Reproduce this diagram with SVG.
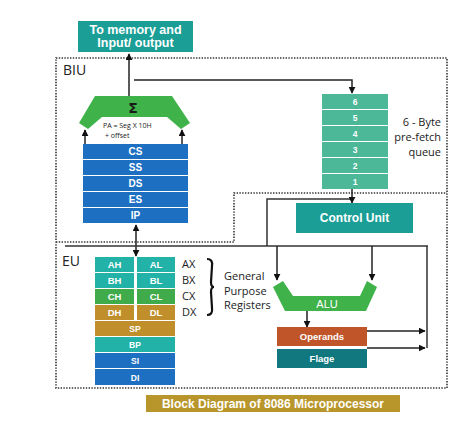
<svg xmlns="http://www.w3.org/2000/svg" width="474" height="424" viewBox="0 0 474 424">
<defs>
<marker id="ah" viewBox="0 0 10 10" refX="9" refY="5" markerWidth="7" markerHeight="7" markerUnits="userSpaceOnUse" orient="auto-start-reverse">
<path d="M0,0 L10,5 L0,10 Z" fill="#111"/>
</marker>
<style>
.bx{font-family:"Liberation Sans",Arial,sans-serif;font-weight:bold;fill:#fff;text-anchor:middle}
.lb{font-family:"Open Sans","Noto Sans",sans-serif;fill:#222}
.dot{fill:none;stroke:#333;stroke-width:1.6;stroke-dasharray:1.4 1.4}
.ln{fill:none;stroke:#333;stroke-width:1.5}
.ar{fill:none;stroke:#222;stroke-width:1.5;marker-end:url(#ah)}
.seg{fill:#1c6fc1}
.q{fill:#4cb897}
.teal{fill:#22b2a7}
.grn{fill:#3fab4a}
.gold{fill:#c08f2b}
</style>
</defs>
<rect width="474" height="424" fill="#fff"/>

<g id="frame">
<path class="dot" d="M56,58 H447 V388 H56 Z"/>
<path class="dot" d="M56,242 H234 V193 H447"/>
<text class="lb" x="63" y="75" font-size="14">BIU</text>
<text class="lb" x="62" y="266" font-size="14">EU</text>
</g>

<g id="connectors">
<line class="ar" x1="129" y1="97" x2="129" y2="54"/>
<polyline class="ar" points="134,80 352,80 352,93"/>
<line class="ar" x1="85" y1="145" x2="85" y2="130"/>
<line class="ar" x1="182" y1="145" x2="182" y2="130"/>
<line class="ar" x1="136" y1="225" x2="136" y2="256" marker-start="url(#ah)"/>
<line class="ln" x1="65" y1="246" x2="428" y2="246"/>
<polyline class="ln" points="267,246 267,199 353,199"/>
<line class="ar" x1="352" y1="189" x2="352" y2="203"/>
<line class="ar" x1="277" y1="246" x2="277" y2="280"/>
<line class="ar" x1="372" y1="246" x2="372" y2="280"/>
<line class="ln" x1="427" y1="246" x2="427" y2="348"/>
<line class="ar" x1="307" y1="311" x2="307" y2="327"/>
<line class="ar" x1="367" y1="331" x2="425" y2="331"/>
<line class="ar" x1="367" y1="348" x2="425" y2="348"/>
<path d="M207,259 Q213,259 212,266 L211,282 Q211,287 214,287 Q211,287 211,292 L212,308 Q213,315 207,315" fill="none" stroke="#111" stroke-width="2.2"/>
</g>

<g id="memory-io">
<rect x="78" y="21" width="115" height="31" fill="#1a9e96"/>
<text class="bx" x="135.5" y="34" font-size="12.5">To memory and</text>
<text class="bx" x="135.5" y="47" font-size="12.5">Input/ output</text>
</g>

<g id="adder">
<polygon points="95,96 172,96 190,123 181,129 167,117 102,117 88,129 79,123" fill="#3fb34a"/>
<text x="133" y="113" font-family="DejaVu Sans,sans-serif" font-size="14" font-weight="bold" fill="#1a1a1a" text-anchor="middle">Σ</text>
<text class="lb" x="103" y="128" font-size="7">PA = Seg X 10H</text>
<text class="lb" x="105" y="138" font-size="7">+ offset</text>
</g>

<g id="segment-registers">
<rect class="seg" x="83" y="144" width="105" height="15"/>
<rect class="seg" x="83" y="160" width="105" height="15"/>
<rect class="seg" x="83" y="176" width="105" height="15"/>
<rect class="seg" x="83" y="192" width="105" height="15"/>
<rect class="seg" x="83" y="208" width="105" height="15"/>
<text class="bx" x="135.5" y="155" font-size="10">CS</text>
<text class="bx" x="135.5" y="171" font-size="10">SS</text>
<text class="bx" x="135.5" y="187" font-size="10">DS</text>
<text class="bx" x="135.5" y="203" font-size="10">ES</text>
<text class="bx" x="135.5" y="219" font-size="10">IP</text>
</g>

<g id="prefetch-queue">
<rect class="q" x="322" y="94" width="66" height="15"/>
<rect class="q" x="322" y="110" width="66" height="15"/>
<rect class="q" x="322" y="126" width="66" height="15"/>
<rect class="q" x="322" y="142" width="66" height="15"/>
<rect class="q" x="322" y="158" width="66" height="15"/>
<rect class="q" x="322" y="174" width="66" height="15"/>
<text class="bx" x="355" y="105" font-size="8.5">6</text>
<text class="bx" x="355" y="121" font-size="8.5">5</text>
<text class="bx" x="355" y="137" font-size="8.5">4</text>
<text class="bx" x="355" y="153" font-size="8.5">3</text>
<text class="bx" x="355" y="169" font-size="8.5">2</text>
<text class="bx" x="355" y="185" font-size="8.5">1</text>
<text class="lb" x="441" y="126" font-size="11" text-anchor="end">6 - Byte</text>
<text class="lb" x="441" y="141" font-size="11" text-anchor="end">pre-fetch</text>
<text class="lb" x="441" y="156" font-size="11" text-anchor="end">queue</text>
</g>

<g id="control-unit">
<rect x="296" y="203" width="117" height="30" fill="#1a9e96"/>
<text class="bx" x="354.5" y="222" font-size="12">Control Unit</text>
</g>

<g id="general-registers">
<rect class="teal" x="95" y="257" width="39" height="15"/>
<rect class="teal" x="137" y="257" width="38" height="15"/>
<rect class="teal" x="95" y="273" width="39" height="15"/>
<rect class="teal" x="137" y="273" width="38" height="15"/>
<rect class="grn" x="95" y="289" width="39" height="15"/>
<rect class="grn" x="137" y="289" width="38" height="15"/>
<rect class="gold" x="95" y="305" width="39" height="15"/>
<rect class="gold" x="137" y="305" width="38" height="15"/>
<rect class="gold" x="95" y="321" width="80" height="15"/>
<rect class="teal" x="95" y="337" width="80" height="15"/>
<rect class="seg" x="95" y="353" width="80" height="15"/>
<rect class="seg" x="95" y="369" width="80" height="16"/>
<text class="bx" x="114.5" y="268" font-size="9.5">AH</text>
<text class="bx" x="156" y="268" font-size="9.5">AL</text>
<text class="bx" x="114.5" y="284" font-size="9.5">BH</text>
<text class="bx" x="156" y="284" font-size="9.5">BL</text>
<text class="bx" x="114.5" y="300" font-size="9.5">CH</text>
<text class="bx" x="156" y="300" font-size="9.5">CL</text>
<text class="bx" x="114.5" y="316" font-size="9.5">DH</text>
<text class="bx" x="156" y="316" font-size="9.5">DL</text>
<text class="bx" x="135" y="332" font-size="8.5">SP</text>
<text class="bx" x="135" y="348" font-size="8.5">BP</text>
<text class="bx" x="135" y="364" font-size="8.5">SI</text>
<text class="bx" x="135" y="381" font-size="8.5">DI</text>
<text class="lb" x="182" y="268" font-size="11">AX</text>
<text class="lb" x="182" y="284" font-size="11">BX</text>
<text class="lb" x="182" y="300" font-size="11">CX</text>
<text class="lb" x="182" y="316" font-size="11">DX</text>
<text class="lb" x="224" y="280" font-size="11">General</text>
<text class="lb" x="224" y="295" font-size="11">Purpose</text>
<text class="lb" x="224" y="309" font-size="11">Registers</text>
</g>

<g id="alu">
<polygon points="273,287 283,281 293,296 360,296 367,281 377,287 366,311 285,311" fill="#3fb34a"/>
<text x="327" y="308" font-family="Liberation Sans,Arial,sans-serif" font-size="11" fill="#fff" text-anchor="middle">ALU</text>
</g>

<g id="operands">
<rect x="277" y="327" width="90" height="19" fill="#c0552a"/>
<text class="bx" x="322" y="340" font-size="9.5">Operands</text>
</g>

<g id="flags">
<rect x="277" y="349" width="90" height="19" fill="#11787f"/>
<text class="bx" x="322" y="362" font-size="9.5">Flage</text>
</g>

<g id="title">
<rect x="146" y="395" width="254" height="17" fill="#b8962c"/>
<text class="bx" x="273" y="408" font-size="12">Block Diagram of 8086 Microprocessor</text>
</g>
</svg>
